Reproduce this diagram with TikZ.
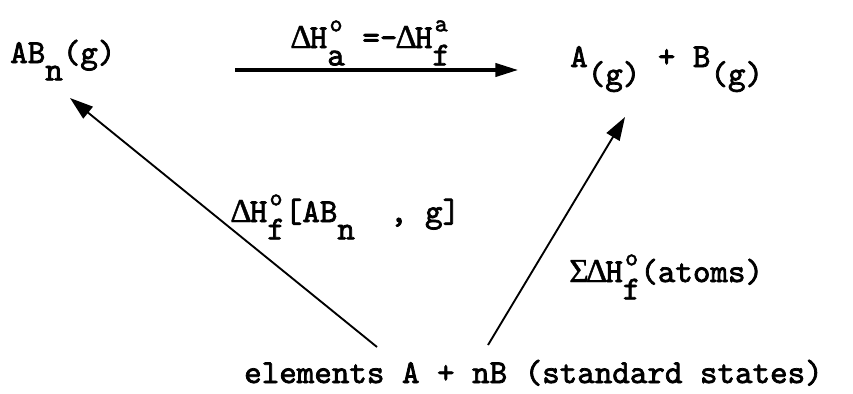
\documentclass[tikz,border=0pt]{standalone}
\usepackage{fontspec}
\setmonofont{lmmono10-regular.otf}[FakeBold=2.2]
\newfontfamily\grk{Liberation Serif}[FakeBold=1.2]
\usetikzlibrary{arrows.meta}
% typewriter cells and half-line shifts
\newcommand{\cell}[1]{\makebox[0.525em]{#1}}
\newcommand{\lowr}[1]{\raisebox{-0.52em}{#1}}
\newcommand{\upsm}[1]{\raisebox{0.5em}{\fontsize{21}{21}\selectfont #1}}
\newcommand{\stk}[2]{\rlap{\cell{\upsm{#1}}}\cell{\lowr{#2}}}
\newcommand{\Dl}{\cell{\grk Δ}}
\newcommand{\Sg}{\cell{\grk Σ}}
\begin{document}
\begin{tikzpicture}[x=0.03cm, y=-0.03cm, font=\ttfamily\fontsize{28.5}{34}\selectfont,
    txt/.style={anchor=base west, inner sep=0pt},
    rxn/.style={-{Triangle[length=0.68cm, width=0.4cm]}, line width=2.6pt},
    form/.style={-{Triangle[length=0.7cm, width=0.45cm]}, line width=1.6pt}]
  \useasboundingbox (0,0) rectangle (853,393);
  % species
  \node[txt] (molec) at (10,63) {AB\lowr{n}(g)};
  \node[txt] (atoms) at (570,67) {A\lowr{(g)} + B\lowr{(g)}};
  \node[txt] (elem) at (244,383) {elements A + nB (standard states)};
  % arrow ends
  \coordinate (atomTail) at (235,70);
  \coordinate (atomTip) at (518,70);
  \coordinate (molecTail) at (377,347);
  \coordinate (molecTip) at (70,98);
  \coordinate (atomsTail) at (488,345);
  \coordinate (atomsTip) at (625,117);
  \draw[rxn] (atomTail) -- (atomTip);
  \draw[form] (molecTail) -- (molecTip);
  \draw[form] (atomsTail) -- (atomsTip);
  % enthalpy labels
  \node[txt] (dHa) at (292,48) {\Dl H\stk{o}{a} =-\Dl H\stk{a}{f}};
  \node[txt] (dHf) at (232,222) {\Dl H\stk{o}{f}[AB\lowr{n}~~,~g]};
  \node[txt] (dHsum) at (570,282) {\Sg\Dl H\stk{o}{f}(atoms)};
\end{tikzpicture}
\end{document}
